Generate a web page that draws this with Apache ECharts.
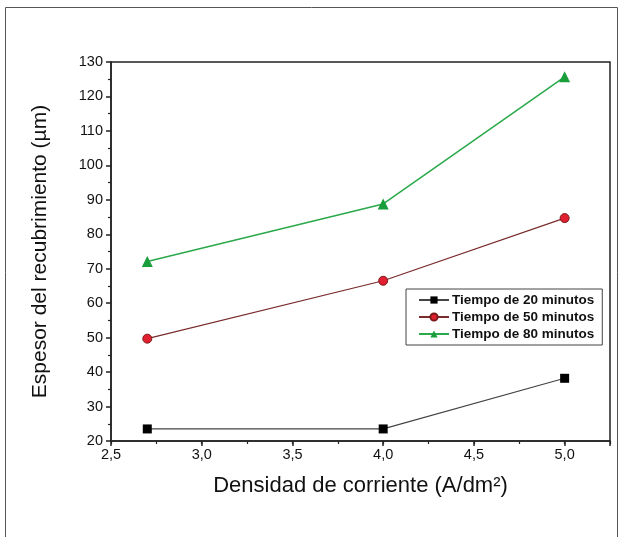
<!DOCTYPE html>
<html>
<head>
<meta charset="utf-8">
<script src="https://cdn.jsdelivr.net/npm/echarts@6/dist/echarts.min.js"></script>
<style>
  html, body { margin: 0; padding: 0; background: #fff; }
  #chart { width: 624px; height: 537px; }
</style>
</head>
<body>
<div id="chart"></div>
<script>
// datos
const densidad = [2.7, 4.0, 5.0];
const t20 = [23.5, 23.5, 38.2];
const t50 = [49.7, 66.5, 84.7];
const t80 = [72.1, 88.8, 125.7];
const nombres = ['Tiempo de 20 minutos', 'Tiempo de 50 minutos', 'Tiempo de 80 minutos'];

const fuente = '"Liberation Sans", Arial, sans-serif';

function pares(ys) {
    return densidad.map((x, i) => [x, ys[i]]);
}

const chart = echarts.init(document.getElementById('chart'));

const option = {
    backgroundColor: '#fff',
    animation: false,
    graphic: [{
        type: 'rect',
        shape: { x: 5.5, y: 7.5, width: 612, height: 560 },
        style: { fill: 'none', stroke: '#555', lineWidth: 1 },
        silent: true
    }],
    grid: {
        left: 111, right: 14, top: 62, bottom: 96,
        show: true, borderColor: '#222', borderWidth: 1.5
    },
    legend: {
        orient: 'vertical',
        left: 406, top: 289,
        padding: [4, 8, 4, 12],
        itemGap: 3,
        itemWidth: 30,
        itemHeight: 9,
        borderColor: '#444',
        borderWidth: 1,
        data: nombres,
        textStyle: { fontFamily: fuente, fontSize: 13.5, fontWeight: 'bold', color: '#111', padding: [0, 0, 0, -2] }
    },
    xAxis: [{
        type: 'value',
        min: 2.5, max: 5.25, interval: 0.5,
        name: 'Densidad de corriente (A/dm²)',
        nameLocation: 'middle',
        nameGap: 34,
        nameTextStyle: { fontFamily: fuente, fontSize: 22, color: '#111' },
        axisLine: { lineStyle: { color: '#222', width: 1.5 } },
        axisTick: { show: true, inside: false, length: 5, lineStyle: { color: '#222', width: 1.5 } },
        axisLabel: {
            margin: 6,
            fontFamily: fuente, fontSize: 14.5, color: '#111',
            formatter: v => (Math.abs(v * 2 - Math.round(v * 2)) < 1e-6 ? v.toFixed(1).replace('.', ',') : '')
        },
        splitLine: { show: false }
    }, {
        // marcas menores cada 0,25
        type: 'value',
        position: 'bottom',
        min: 2.5, max: 5.25, interval: 0.25,
        axisLine: { show: false },
        axisTick: { show: true, length: 3, lineStyle: { color: '#222', width: 1.2 } },
        axisLabel: { show: false },
        splitLine: { show: false }
    }],
    yAxis: {
        type: 'value',
        min: 20, max: 130, interval: 10,
        name: 'Espesor del recubrimiento (µm)',
        nameLocation: 'middle',
        nameGap: 60,
        nameTextStyle: { fontFamily: fuente, fontSize: 21, color: '#111' },
        axisLine: { show: true, lineStyle: { color: '#222', width: 1.5 } },
        axisTick: { show: true, inside: false, length: 5, lineStyle: { color: '#222', width: 1.5 } },
        minorTick: { show: true, splitNumber: 2, length: 3, lineStyle: { color: '#222', width: 1.2 } },
        axisLabel: { margin: 8, fontFamily: fuente, fontSize: 14.5, color: '#111' },
        splitLine: { show: false }
    },
    series: [
        {
            name: nombres[0],
            type: 'line',
            data: pares(t20),
            symbol: 'rect',
            symbolSize: 9,
            itemStyle: { color: '#000' },
            lineStyle: { color: '#444', width: 1.2 }
        },
        {
            name: nombres[1],
            type: 'line',
            data: pares(t50),
            symbol: 'circle',
            symbolSize: 9,
            itemStyle: { color: '#e02030', borderColor: '#7a1a1a', borderWidth: 1 },
            lineStyle: { color: '#7a2c2c', width: 1.2 }
        },
        {
            name: nombres[2],
            type: 'line',
            data: pares(t80),
            symbol: 'triangle',
            symbolSize: 11,
            itemStyle: { color: '#1a9e3c' },
            lineStyle: { color: '#2aa84a', width: 1.5 }
        }
    ]
};

chart.setOption(option);
</script>
</body>
</html>
